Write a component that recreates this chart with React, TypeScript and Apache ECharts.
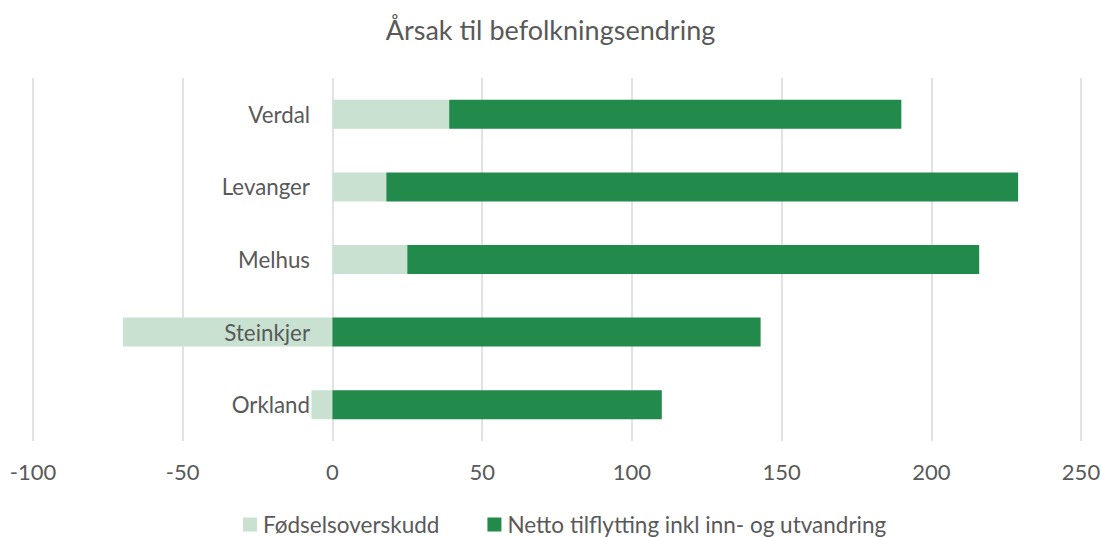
import React, { useEffect, useRef } from "react";
import * as echarts from "echarts";

const categories = ["Orkland", "Steinkjer", "Melhus", "Levanger", "Verdal"];
const fodselsoverskudd = [-7, -70, 25, 18, 39];
const nettoTilflytting = [110, 143, 191, 211, 151];
const seriesNames = ["Fødselsoverskudd", "Netto tilflytting inkl inn- og utvandring"];
const titleText = "Årsak til befolkningsendring";

const FONT = "Lato, 'Open Sans', sans-serif";
const TXT = "#595959";

export default function App() {
  const ref = useRef<HTMLDivElement>(null);
  useEffect(() => {
    if (!ref.current) return;
    const chart = echarts.init(ref.current, null, { renderer: "svg" });
    chart.setOption({
      animation: false,
      backgroundColor: "#ffffff",
      textStyle: { fontFamily: FONT },
      title: {
        text: titleText,
        left: "center",
        top: 11,
        textStyle: { fontFamily: FONT, fontSize: 27, fontWeight: "normal", color: TXT },
      },
      legend: {
        bottom: -4,
        left: 238,
        itemWidth: 14,
        itemHeight: 14,
        itemGap: 48,
        icon: "rect",
        textStyle: { fontFamily: FONT, fontSize: 22.5, color: TXT, padding: [0, 0, 0, 1] },
        data: seriesNames,
      },
      grid: { left: 33, right: 20, top: 78, bottom: 96, containLabel: false, outerBoundsMode: "none" },
      xAxis: {
        type: "value",
        min: -100,
        max: 250,
        interval: 50,
        axisLine: { show: false },
        axisTick: { show: false },
        splitLine: { show: true, lineStyle: { color: "#d9d9d9", width: 1.5 } },
        axisLabel: { fontFamily: FONT, fontSize: 22, color: TXT, margin: 19 },
      },
      yAxis: {
        type: "category",
        data: categories,
        z: 10,
        offset: -299,
        axisLine: { show: false, onZero: false },
        axisTick: { show: false },
        axisLabel: { fontFamily: FONT, fontSize: 22.3, color: TXT, margin: 22 },
      },
      series: [
        {
          name: seriesNames[0],
          type: "bar",
          stack: "total",
          data: fodselsoverskudd,
          barWidth: 29,
          itemStyle: { color: "#c9e1d0" },
        },
        {
          name: seriesNames[1],
          type: "bar",
          stack: "total",
          data: nettoTilflytting,
          barWidth: 29,
          itemStyle: { color: "#228a4a" },
        },
      ],
    });
    return () => chart.dispose();
  }, []);
  return (
    <div
      ref={ref}
      style={{ position: "fixed", left: 0, top: 0, width: 1101, height: 537 }}
    />
  );
}
